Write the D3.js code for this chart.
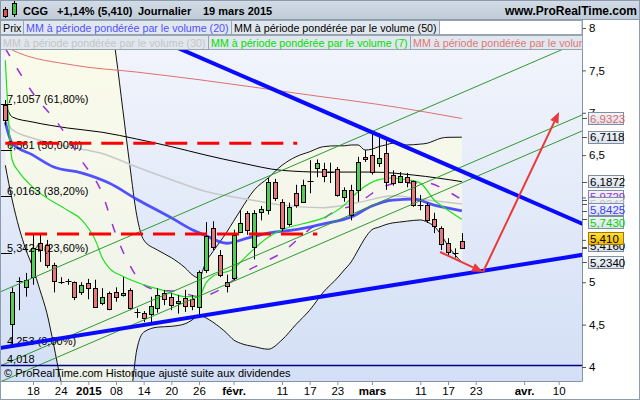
<!DOCTYPE html>
<html><head><meta charset="utf-8">
<script src="https://cdn.jsdelivr.net/npm/d3@7/dist/d3.min.js"></script>
<style>
html,body{margin:0;padding:0;background:#fff;}
svg{display:block;font-family:"Liberation Sans",Arial,sans-serif;}
</style></head><body>
<svg id="c" width="640" height="400"></svg>
<script>
// ---------------- DATA ----------------
const axisDays = [
 "2014-12-12","2014-12-15","2014-12-16","2014-12-17","2014-12-18","2014-12-19","2014-12-22","2014-12-23","2014-12-24","2014-12-29","2014-12-30","2014-12-31",
 "2015-01-02","2015-01-05","2015-01-06","2015-01-07","2015-01-08","2015-01-09","2015-01-12","2015-01-13","2015-01-14","2015-01-15","2015-01-16","2015-01-19","2015-01-20","2015-01-21","2015-01-22","2015-01-23","2015-01-26","2015-01-27","2015-01-28","2015-01-29","2015-01-30",
 "2015-02-02","2015-02-03","2015-02-04","2015-02-05","2015-02-06","2015-02-09","2015-02-10","2015-02-11","2015-02-12","2015-02-13","2015-02-16","2015-02-17","2015-02-18","2015-02-19","2015-02-20","2015-02-23","2015-02-24","2015-02-25","2015-02-26","2015-02-27",
 "2015-03-02","2015-03-03","2015-03-04","2015-03-05","2015-03-06","2015-03-09","2015-03-10","2015-03-11","2015-03-12","2015-03-13","2015-03-16","2015-03-17","2015-03-18","2015-03-19","2015-03-20","2015-03-23","2015-03-24","2015-03-25","2015-03-26","2015-03-27","2015-03-30","2015-03-31",
 "2015-04-01","2015-04-02","2015-04-07","2015-04-08","2015-04-09","2015-04-10"];
const candleCount = 67; // Dec 12 .. Mar 19
const open  = [7.09,4.51,5.01,4.94,5.06,5.46,5.44,5.20,5.00,5.01,5.00,4.88,4.99,4.93,4.75,4.87,4.89,4.85,4.91,4.65,4.64,4.62,4.70,4.87,4.83,4.76,4.81,4.80,4.71,5.14,5.64,5.32,5.00,5.05,5.59,5.82,5.42,5.83,5.85,6.18,5.95,5.69,6.05,5.95,6.19,6.35,6.34,6.30,6.34,6.01,6.09,6.09,6.48,6.50,6.41,6.53,6.27,6.18,6.24,6.19,5.91,5.91,5.75,5.64,5.46,5.35,5.49];
const high  = [7.15,4.94,5.06,5.11,5.56,5.56,5.50,5.23,5.06,5.04,5.01,5.00,5.04,5.03,4.93,4.89,4.94,5.06,4.93,4.69,4.66,4.83,4.93,4.91,4.87,4.85,4.91,4.85,5.14,5.71,5.72,5.38,5.09,5.62,5.85,5.84,5.85,5.90,6.23,6.22,5.98,5.94,6.15,6.21,6.44,6.45,6.41,6.41,6.36,6.12,6.15,6.48,6.56,6.76,6.76,6.68,6.32,6.30,6.29,6.20,6.03,5.94,5.82,5.66,5.52,5.40,5.58];
const low   = [6.85,4.253,4.67,4.83,4.97,5.24,5.17,4.88,4.98,4.97,4.79,4.85,4.80,4.70,4.73,4.67,4.77,4.83,4.67,4.58,4.53,4.52,4.64,4.73,4.67,4.63,4.65,4.67,4.61,5.11,5.38,5.06,4.88,5.02,5.58,5.56,5.27,5.73,5.80,5.96,5.60,5.66,5.88,5.94,6.05,6.24,6.18,6.17,6.01,5.95,5.73,5.95,6.42,6.27,6.36,6.09,6.14,6.17,6.12,5.89,5.85,5.70,5.58,5.38,5.30,5.29,5.40];
const close = [6.91,4.89,5.01,5.03,5.40,5.38,5.20,5.01,5.00,5.01,4.83,4.97,4.93,4.71,4.83,4.68,4.83,4.87,4.70,4.65,4.58,4.72,4.85,4.80,4.73,4.78,4.72,4.72,5.12,5.55,5.42,5.09,4.96,5.56,5.70,5.62,5.82,5.86,6.18,5.99,5.64,5.89,5.91,6.15,6.19,6.41,6.25,6.30,6.03,6.09,5.79,6.42,6.45,6.30,6.47,6.18,6.17,6.25,6.18,5.91,5.91,5.73,5.66,5.45,5.36,5.35,5.41];

// indicator readings (index into axisDays, value)
const vwma100At = [0,1,10,19,28,43,57,66];
const vwma100   = [7.80,7.74,7.56,7.48,7.39,7.22,7.06,6.9323];
const vwma50At  = [0,1,4,9,14,19,24,29,34,40,46,53,59,66];
const vwma50    = [7.115,6.95,6.89,6.82,6.77,6.69,6.60,6.50,6.41,6.32,6.30,6.30,6.265,6.1872];
const vwma30At  = [0,1,4,9,14,19,24,29,35,40,46,51,56,61,66];
const vwma30    = [6.94,6.80,6.70,6.60,6.52,6.36,6.21,6.07,5.98,5.91,5.88,5.94,6.02,5.97,5.9243];
const vwma20At  = [0,1,4,7,11,15,19,24,27,29,32,35,38,42,46,50,53,56,59,62,66];
const vwma20    = [6.89,6.64,6.50,6.36,6.29,6.17,5.98,5.76,5.62,5.55,5.46,5.52,5.58,5.62,5.69,5.77,5.90,5.97,5.98,5.91,5.8425];
const vwma7At   = [0,1,2,4,9,11,13,14,15,17,20,23,26,28,29,30,33,35,38,40,43,46,49,51,54,56,58,60,62,64,66];
const vwma7     = [7.62,6.44,6.30,6.12,5.85,5.74,5.50,5.29,5.17,5.07,4.97,4.90,4.83,4.83,4.99,5.07,5.16,5.32,5.53,5.62,5.69,5.76,5.91,6.07,6.21,6.23,6.21,6.17,5.97,5.85,5.7430];
const bbMidAt   = [0,4,8,11,14,16,18,20,22,25,28,31,34,38,40,43,45,48,50,52,54,57,61,64,66];
const bbMid     = [7.76,7.23,6.83,6.44,6.05,5.56,5.20,4.97,4.91,4.89,4.83,4.91,5.09,5.26,5.35,5.56,5.69,5.85,5.90,5.99,6.10,6.17,6.17,6.07,5.9729];
const bandAt    = [0,1,2,3,4,5,6,7,8,10,12,14,15,16,17,18,19,20,22,24,26,27,28,29,30,32,33,34,36,38,40,42,44,46,48,49,50,51,52,53,54,55,56,57,58,60,61,62,63,64,66];
const bbUpper   = [9.1,9.15,9.2,9.25,9.3,9.4,9.5,9.6,9.8,9.8,9.5,8.9,8.25,7.68,7.03,6.38,5.79,5.50,5.38,5.29,5.17,5.09,5.05,5.24,5.36,5.59,5.72,5.85,6.09,6.23,6.38,6.48,6.54,6.60,6.61,6.61,6.62,6.62,6.56,6.57,6.60,6.62,6.64,6.63,6.62,6.63,6.64,6.67,6.70,6.71,6.7118];
const bbLower   = [6.38,5.97,5.64,5.38,5.17,4.91,4.64,4.26,3.85,3.4,3.2,3.2,3.3,3.4,3.5,3.61,4.20,4.41,4.47,4.48,4.51,4.555,4.61,4.58,4.53,4.40,4.32,4.28,4.24,4.21,4.32,4.50,4.67,4.885,5.05,5.145,5.24,5.38,5.52,5.62,5.65,5.68,5.70,5.71,5.72,5.735,5.71,5.66,5.56,5.43,5.2340];

// drawn objects (index, value)
const blueDownLine = [[20,7.94],[84,5.67]];
const blueUpLine   = [[-1,4.221],[84,5.331]];
const greenChannel1 = [[-1,4.877],[84,7.869]];
const greenChannel2 = [[-1,4.004],[84,6.996]];
const greenChannel3 = [[-1,3.815],[84,6.807]];
const redDash1 = [[0,6.64],[42.2,6.64]];
const redDash2 = [[2.85,5.569],[45.1,5.569]];
const redArrow1 = [[62.85,5.357],[69.06,5.121]];
const redArrow2 = [[69.06,5.121],[80.05,7.009]];
const supportLevel = 4.018;

const fibValues = [7.1057,6.561,6.0163,5.3424,4.253];
const fibPct    = ["61,80%","50,00%","38,20%","23,60%","0,00%"];

const tickDays   = ["2014-12-18","2014-12-24","2015-01-02","2015-01-08","2015-01-14","2015-01-20","2015-01-26","2015-02-02","2015-02-11","2015-02-17","2015-02-23","2015-03-02","2015-03-11","2015-03-17","2015-03-23","2015-04-01","2015-04-10"];
const tickLabels = ["18","24","2015","08","14","20","26","févr.","11","17","23","mars","11","17","23","avr.","10"];
const tickBold   = ["2015","févr.","mars","avr."];
const yTicks = [4,4.5,5,5.5,6,6.5,7,7.5,8];

const lastValues = [6.9323,6.7118,6.1872,5.9729,5.9243,5.8425,5.7430,5.4160,5.2340];
const lastColors = ["#e06a6a","#000","#000","#9b30d8","#c4c4c4","#4040ff","#00d800","#000","#000"];

const headerParts = ["CGG","+1,14% (5,410)","Journalier","19 mars 2015"];
const legendRow1 = ["Prix","MM à période pondérée par le volume (20)","MM à période pondérée par le volume (50)"];
const legendRow1Colors = ["#000","#5050ff","#000"];
const legendRow2 = ["MM à période pondérée par le volume (30)","MM à période pondérée par le volume (7)","MM à période pondérée par le volume (100)"];
const legendRow2Colors = ["#c4c4c4","#00e000","#e07878"];

// ---------------- SCALES ----------------
const FONT = '"Liberation Sans",Arial,sans-serif';
const P = {l:0, r:582, t:20, b:381};
const xi = d3.scaleLinear().domain([0,80]).range([5.3,558.7]);
const y  = d3.scaleLinear().domain([4,8]).range([367,28]);
const dayIdx = d => axisDays.indexOf(d);
const fmt = (v,n) => v.toFixed(n).replace('.',',');

const svg = d3.select('#c');
const defs = svg.append('defs');
const lg = (id, stops) => { const g = defs.append('linearGradient').attr('id',id).attr('x1',0).attr('y1',0).attr('x2',0).attr('y2',1);
  stops.forEach(s=>g.append('stop').attr('offset',s[0]).attr('stop-color',s[1])); };
lg('bg',[[0,'#f4f6fc'],[1,'#d3dff6']]);
lg('hdr',[[0,'#d3dce6'],[1,'#bfcbd8']]);
lg('box',[[0,'#f2f5fa'],[1,'#d9e1ec']]);
lg('ybox',[[0,'#ffe040'],[1,'#f2b800']]);
defs.append('clipPath').attr('id','clip').append('rect').attr('x',P.l).attr('y',P.t).attr('width',P.r-P.l).attr('height',P.b-P.t);

svg.append('rect').attr('width',640).attr('height',400).attr('fill','#fff');
svg.append('rect').attr('x',P.l).attr('y',P.t).attr('width',P.r-P.l).attr('height',P.b-P.t).attr('fill','url(#bg)');

const g = svg.append('g').attr('clip-path','url(#clip)');
const curve = d3.curveMonotoneX;

// Bollinger band fill + lines
const bandData = bandAt.map((d,k)=>({i:d,u:bbUpper[k],l:bbLower[k]}));
g.append('path').datum(bandData)
 .attr('d', d3.area().x(d=>xi(d.i)).y0(d=>y(d.l)).y1(d=>y(d.u)).curve(curve))
 .attr('fill','#ffffe0').attr('fill-opacity',0.6);
const lineOf = (at,vals) => d3.line().x((d,k)=>xi(at[k])).y(d=>y(d)).curve(curve)(vals);
g.append('path').attr('d',lineOf(bandAt,bbUpper)).attr('fill','none').attr('stroke','#111').attr('stroke-width',1);
g.append('path').attr('d',lineOf(bandAt,bbLower)).attr('fill','none').attr('stroke','#111').attr('stroke-width',1);

// moving averages
g.append('path').attr('d',lineOf(vwma100At,vwma100)).attr('fill','none').attr('stroke','#e07070').attr('stroke-width',1);
g.append('path').attr('d',lineOf(vwma30At,vwma30)).attr('fill','none').attr('stroke','#c8c8c8').attr('stroke-width',1.5);
g.append('path').attr('d',lineOf(vwma50At,vwma50)).attr('fill','none').attr('stroke','#000').attr('stroke-width',1);
g.append('path').attr('d',lineOf(bbMidAt,bbMid)).attr('fill','none').attr('stroke','#9b30d8').attr('stroke-width',1.5).attr('stroke-dasharray','9,14');
g.append('path').attr('d',lineOf(vwma20At,vwma20)).attr('fill','none').attr('stroke','#3535ff').attr('stroke-width',2.8).attr('stroke-opacity',0.85);
g.append('path').attr('d',lineOf(vwma7At,vwma7)).attr('fill','none').attr('stroke','#1ee01e').attr('stroke-width',1.2);

// candles
const cg = g.append('g');
d3.range(candleCount).forEach(k=>{
  const r = Math.round(xi(dayIdx(axisDays[k])));
  cg.append('line').attr('x1',r+0.5).attr('x2',r+0.5).attr('y1',y(high[k])).attr('y2',y(low[k])).attr('stroke','#000');
  if (open[k]===close[k]) {
    cg.append('line').attr('x1',r-2.5).attr('x2',r+3.5).attr('y1',Math.round(y(open[k]))+0.5).attr('y2',Math.round(y(open[k]))+0.5).attr('stroke','#000');
  } else {
    const top = Math.round(y(Math.max(open[k],close[k]))), bot = Math.round(y(Math.min(open[k],close[k])));
    cg.append('rect').attr('x',r-1.5).attr('y',top+0.5).attr('width',4).attr('height',Math.max(1,bot-top))
      .attr('fill', close[k]>open[k] ? '#55cc55' : '#e87878').attr('stroke','#000').attr('stroke-width',1);
  }
});

// green channel
const seg = (pts, stroke, w, dash) => g.append('line')
  .attr('x1',xi(pts[0][0])).attr('y1',y(pts[0][1])).attr('x2',xi(pts[1][0])).attr('y2',y(pts[1][1]))
  .attr('stroke',stroke).attr('stroke-width',w).attr('stroke-dasharray',dash||null);
[greenChannel1,greenChannel2,greenChannel3].forEach(p=>seg(p,'#2f9a2f',1));
// support level
seg([[-2,supportLevel],[90,supportLevel]],'#000080',1.5);

// fib labels
fibValues.forEach((v,k)=>{
  g.append('line').attr('x1',1).attr('x2',12).attr('y1',Math.round(y(v))+0.5).attr('y2',Math.round(y(v))+0.5).attr('stroke','#000');
  g.append('text').attr('x',7).attr('y',y(v)-1).attr('font-size',11).attr('fill','#000')
   .text(String(v).replace('.',',')+' ('+fibPct[k]+')');
});
g.append('text').attr('x',7).attr('y',y(supportLevel)-2).attr('font-size',11).text(fmt(supportLevel,3));

// blue trend lines
seg(blueDownLine,'#0a0aff',4);
seg(blueUpLine,'#0a0aff',4);
// red dashed lines
seg(redDash1,'#ff0000',3,'22,10');
seg(redDash2,'#ff0000',3,'22,10');
// red arrows
function arrow(p){
  const x0=xi(p[0][0]),y0=y(p[0][1]),x1=xi(p[1][0]),y1=y(p[1][1]);
  const a=Math.atan2(y1-y0,x1-x0),L=11,Wd=4.5;
  const bx=x1-L*Math.cos(a),by=y1-L*Math.sin(a);
  g.append('line').attr('x1',x0).attr('y1',y0).attr('x2',bx).attr('y2',by).attr('stroke','#e83a3a').attr('stroke-width',2);
  g.append('path').attr('d','M'+[[x1,y1],[bx+Wd*Math.sin(a),by-Wd*Math.cos(a)],[bx-Wd*Math.sin(a),by+Wd*Math.cos(a)]].join('L')+'Z').attr('fill','#e83a3a');
}
arrow(redArrow1); arrow(redArrow2);

// copyright text
g.append('text').attr('x',4).attr('y',377).attr('font-size',11).text('© ProRealTime.com Historique ajusté suite aux dividendes');

// frame lines
svg.append('line').attr('x1',P.r+0.5).attr('x2',P.r+0.5).attr('y1',P.t).attr('y2',P.b).attr('stroke','#8494a4');
svg.append('line').attr('x1',0).attr('x2',P.r+0.5).attr('y1',P.b+0.5).attr('y2',P.b+0.5).attr('stroke','#8494a4');

// right axis
const ya = svg.append('g').attr('transform',`translate(${P.r},0)`)
  .call(d3.axisRight(y).tickValues(yTicks).tickSize(4).tickFormat(d=>String(d).replace('.',',')));
ya.select('.domain').remove();
ya.selectAll('text').attr('font-size',11.5).attr('font-family',FONT).attr('fill','#000').attr('x',7);
ya.selectAll('line').attr('stroke','#555');

// x axis
const xa = svg.append('g').attr('transform',`translate(0,${P.b})`)
  .call(d3.axisBottom(xi).tickValues(tickDays.map(dayIdx)).tickSize(4).tickFormat((d,k)=>tickLabels[k]));
xa.select('.domain').remove();
xa.selectAll('line').attr('stroke','#8494a4');
xa.selectAll('text').attr('font-size',11.5).attr('font-family',FONT).attr('fill','#000').attr('y',6).attr('dy','0.71em')
  .attr('font-weight',(d,k)=>tickBold.includes(tickLabels[k])?'bold':'normal');

// last-value boxes
function valBox(v, txt, color, dy, fill, stroke){
  const cy = y(v)+dy;
  svg.append('line').attr('x1',P.r).attr('x2',P.r+5).attr('y1',Math.round(y(v))+0.5).attr('y2',Math.round(y(v))+0.5).attr('stroke','#555');
  svg.append('rect').attr('x',588.5).attr('y',Math.round(cy-6.5)+0.5).attr('width',35).attr('height',12).attr('fill',fill).attr('stroke',stroke);
  svg.append('text').attr('x',590).attr('y',cy+4.3).attr('font-size',11.5).attr('fill',color).text(txt);
}
const nudge = [0,0,0,-3,0,-1,3,-1,0];
lastValues.forEach((v,k)=>valBox(v, fmt(v,4), lastColors[k], nudge[k], 'url(#box)', '#7f8fa0'));
valBox(close[candleCount-1], fmt(close[candleCount-1],3), '#000', -9, 'url(#ybox)', '#a07800');

// header
svg.append('rect').attr('x',0).attr('y',0).attr('width',640).attr('height',20).attr('fill','url(#hdr)');
svg.append('line').attr('x1',0).attr('x2',640).attr('y1',19.5).attr('y2',19.5).attr('stroke','#8c9cac');
// icon
svg.append('line').attr('x1',5.5).attr('x2',5.5).attr('y1',7).attr('y2',18).attr('stroke','#000');
svg.append('rect').attr('x',3.5).attr('y',9.5).attr('width',4).attr('height',7).attr('fill','#e05050').attr('stroke','#000');
svg.append('line').attr('x1',14.5).attr('x2',14.5).attr('y1',1).attr('y2',17).attr('stroke','#000');
svg.append('rect').attr('x',12.5).attr('y',3.5).attr('width',4).attr('height',11).attr('fill','#40c040').attr('stroke','#000');
const headerX = [23,57,138,203];
headerParts.forEach((t,k)=>{
  svg.append('text').attr('x',headerX[k]).attr('y',15).attr('font-size',11).attr('font-weight','bold').text(t);
});
svg.append('text').attr('x',637).attr('y',15).attr('text-anchor','end').attr('font-size',12).attr('font-weight','bold').text('www.ProRealTime.com');

// legends
function legendRow(labels, colors, y0, x0, endX, id){
  let x = x0;
  labels.forEach((t,k)=>{
    const gg = svg.append('g');
    const rect = gg.append('rect').attr('x',x+0.5).attr('y',y0+0.5).attr('height',14).attr('fill','#e1e7ee').attr('stroke','#98a4b0');
    const tx = gg.append('text').attr('x',x+3).attr('y',y0+11.5).attr('font-size',10.7).attr('fill',colors[k]).text(t);
    let w = Math.round(tx.node().getComputedTextLength()+5);
    if (x+w>endX) w = endX-x;
    rect.attr('width',w);
    if (x+w>=endX) { defs.append('clipPath').attr('id','lc'+id+k).append('rect').attr('x',x).attr('y',y0).attr('width',w).attr('height',15); tx.attr('clip-path',`url(#lc${id}${k})`); }
    x += w;
  });
  return x;
}
const end1 = legendRow(legendRow1, legendRow1Colors, 20, 0, P.r, 'a');
svg.append('rect').attr('x',end1+0.5).attr('y',20.5).attr('width',P.r-end1-0.5).attr('height',14).attr('fill','#fff').attr('stroke','#98a4b0');
legendRow(legendRow2, legendRow2Colors, 35, 0, P.r, 'b');

// outer frame
svg.append('rect').attr('x',0.5).attr('y',0.5).attr('width',639).attr('height',399).attr('fill','none').attr('stroke','#8c9cac');
</script>
</body></html>
